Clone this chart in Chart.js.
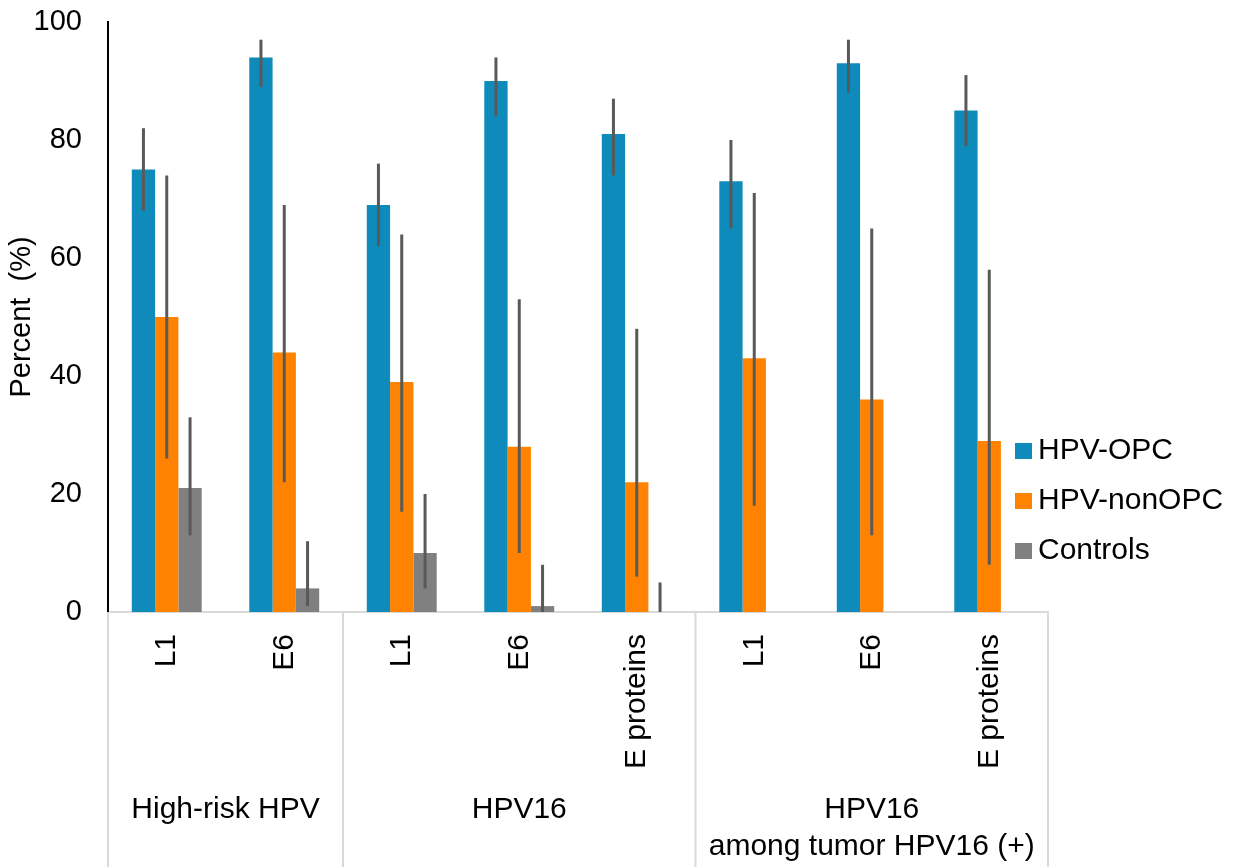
<!DOCTYPE html>
<html>
<head>
<meta charset="utf-8">
<script src="https://cdn.jsdelivr.net/npm/chart.js@4.4.1/dist/chart.umd.min.js"></script>
<style>
  body { margin: 0; background: #fff; }
</style>
</head>
<body>
<canvas id="myChart" width="1249" height="867"></canvas>
<script>
const categories = ['L1', 'E6', 'L1', 'E6', 'E proteins', 'L1', 'E6', 'E proteins'];
const groupLabels = [['High-risk HPV'], ['HPV16'], ['HPV16', 'among tumor HPV16 (+)']];
const groupSizes = [2, 3, 3];

const opc = [75, 94, 69, 90, 81, 73, 93, 85];
const opcLow = [68, 89, 62, 84, 74, 65, 88, 79];
const opcHigh = [82, 97, 76, 94, 87, 80, 97, 91];

const nonOpc = [50, 44, 39, 28, 22, 43, 36, 29];
const nonOpcLow = [26, 22, 17, 10, 6, 18, 13, 8];
const nonOpcHigh = [74, 69, 64, 53, 48, 71, 65, 58];

const controls = [21, 4, 10, 1, 0, null, null, null];
const controlsLow = [13, 1, 4, 0, 0, null, null, null];
const controlsHigh = [33, 12, 20, 8, 5, null, null, null];

const yTicks = [0, 20, 40, 60, 80, 100];

const FONT = '"Liberation Sans", Arial, sans-serif';
const errors = [[opcLow, opcHigh], [nonOpcLow, nonOpcHigh], [controlsLow, controlsHigh]];

// error bars on top of each bar
const errorBars = {
    id: 'errorBars',
    afterDatasetsDraw(chart) {
        const ctx = chart.ctx;
        const y = chart.scales.y;
        ctx.save();
        ctx.strokeStyle = '#595959';
        ctx.lineWidth = 3;
        chart.data.datasets.forEach((ds, i) => {
            const meta = chart.getDatasetMeta(i);
            const [low, high] = errors[i];
            meta.data.forEach((bar, j) => {
                if (low[j] == null) return;
                ctx.beginPath();
                ctx.moveTo(bar.x, y.getPixelForValue(low[j]));
                ctx.lineTo(bar.x, y.getPixelForValue(high[j]));
                ctx.stroke();
            });
        });
        ctx.restore();
    }
};

// category labels, group labels, dividers, y title and legend
const decorations = {
    id: 'decorations',
    afterDraw(chart) {
        const ctx = chart.ctx;
        const area = chart.chartArea;
        const x = chart.scales.x;
        const catW = (area.right - area.left) / categories.length;
        ctx.save();

        // dividers below the axis
        ctx.strokeStyle = '#d9d9d9';
        ctx.lineWidth = 2;
        let b = 0;
        [0, ...groupSizes].forEach(n => {
            b += n;
            const px = area.left + b * catW;
            ctx.beginPath();
            ctx.moveTo(px, area.bottom);
            ctx.lineTo(px, chart.height);
            ctx.stroke();
        });

        ctx.fillStyle = '#000';
        ctx.font = '30px ' + FONT;

        // rotated category labels
        categories.forEach((c, i) => {
            ctx.save();
            ctx.translate(x.getPixelForValue(i), area.bottom + 22);
            ctx.rotate(-Math.PI / 2);
            ctx.textAlign = 'right';
            ctx.textBaseline = 'middle';
            ctx.fillText(c, 0, 0);
            ctx.restore();
        });

        // group labels
        ctx.textAlign = 'center';
        ctx.textBaseline = 'middle';
        let start = 0;
        groupLabels.forEach((lines, g) => {
            const cx = area.left + (start + groupSizes[g] / 2) * catW;
            lines.forEach((t, k) => ctx.fillText(t, cx, 810 + k * 37));
            start += groupSizes[g];
        });

        // y axis title
        ctx.save();
        ctx.font = '29px ' + FONT;
        ctx.translate(22, (area.top + area.bottom) / 2);
        ctx.rotate(-Math.PI / 2);
        ctx.fillText('Percent  (%)', 0, 0);
        ctx.restore();

        // legend
        ctx.textAlign = 'left';
        chart.data.datasets.forEach((ds, i) => {
            const cy = 451 + i * 50;
            ctx.fillStyle = ds.backgroundColor;
            ctx.fillRect(1015, cy - 8, 17, 16);
            ctx.fillStyle = '#000';
            ctx.fillText(ds.label, 1038, cy);
        });

        ctx.restore();
    }
};

const ctx = document.getElementById('myChart').getContext('2d');

const myChart = new Chart(ctx, {
    type: 'bar',
    data: {
        labels: categories,
        datasets: [{
            label: 'HPV-OPC',
            data: opc,
            backgroundColor: '#0e8bba'
        }, {
            label: 'HPV-nonOPC',
            data: nonOpc,
            backgroundColor: '#ff8300'
        }, {
            label: 'Controls',
            data: controls,
            backgroundColor: '#808080'
        }]
    },
    options: {
        responsive: false,
        maintainAspectRatio: false,
        animation: false,
        devicePixelRatio: 1,
        layout: {
            padding: {top: 22, right: 201, left: 0, bottom: 0}
        },
        datasets: {
            bar: {
                categoryPercentage: 0.595,
                barPercentage: 1.0
            }
        },
        scales: {
            x: {
                grid: {display: false},
                ticks: {display: false},
                border: {color: '#d9d9d9', width: 2},
                afterFit: s => { s.height = 255; }
            },
            y: {
                min: 0,
                max: 100,
                afterBuildTicks: s => { s.ticks = yTicks.map(v => ({value: v})); },
                ticks: {
                    color: '#000',
                    padding: 18,
                    font: {size: 29, family: FONT}
                },
                grid: {display: false},
                border: {color: '#000', width: 2},
                afterFit: s => {
                    s.width = 108;
                    s.paddingTop = 0;
                    s.paddingBottom = 0;
                }
            }
        },
        plugins: {
            legend: {display: false},
            tooltip: {enabled: false}
        }
    },
    plugins: [errorBars, decorations]
});
</script>
</body>
</html>
